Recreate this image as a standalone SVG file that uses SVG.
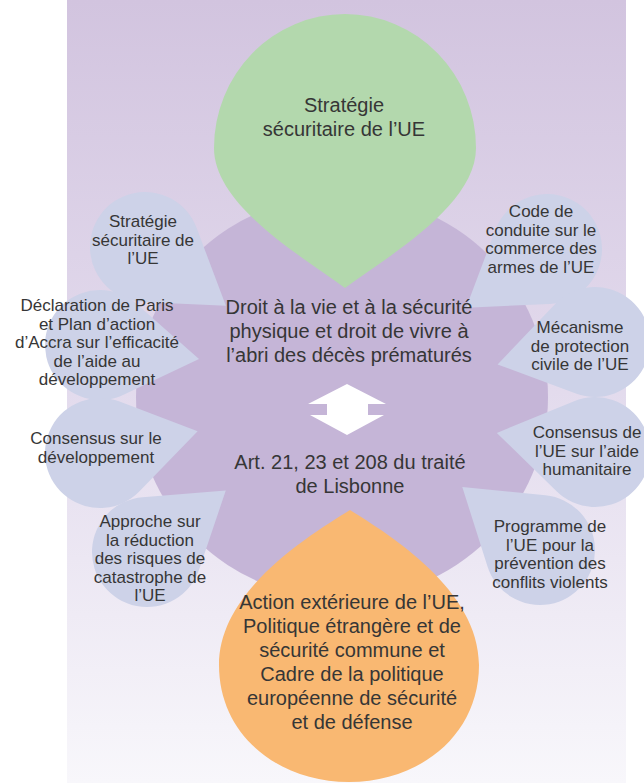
<svg xmlns="http://www.w3.org/2000/svg" xmlns:xlink="http://www.w3.org/1999/xlink" width="644" height="783" viewBox="0 0 644 783">
  <defs>
    <linearGradient id="bg" x1="0" y1="0" x2="0" y2="1">
      <stop offset="0" stop-color="#d2c4df"/>
      <stop offset="0.5" stop-color="#e3dbed"/>
      <stop offset="1" stop-color="#f8f7fb"/>
    </linearGradient>
    <path id="drop" d="M100,0 L30.25,45.93 A55,55 0 1 1 30.25,-45.93 Z"/>
    <style>
      .t { font-family: "Liberation Sans", Arial, Helvetica, sans-serif; fill: #363636; text-anchor: middle; }
      .big { font-size: 20px; }
      .small { font-size: 17px; }
      .lav { fill: #cdd2e8; }
    </style>
  </defs>

  <rect x="67" y="0" width="559" height="783" fill="url(#bg)"/>

  <g id="centre">
    <ellipse cx="342" cy="397" rx="206" ry="202" fill="#c5b5d7"/>
  </g>

  <g id="drop-strategie-gauche">
    <use xlink:href="#drop" class="lav" transform="translate(145,247) rotate(36)"/>
    <text class="t small"><tspan x="143" y="227">Stratégie</tspan><tspan x="143" y="245.5">sécuritaire de</tspan><tspan x="143" y="264">l’UE</tspan></text>
  </g>
  <g id="drop-declaration-paris">
    <use xlink:href="#drop" class="lav" transform="translate(100,345) rotate(8)"/>
    <text class="t small"><tspan x="97" y="311">Déclaration de Paris</tspan><tspan x="97" y="329.5">et Plan d’action</tspan><tspan x="97" y="348">d’Accra sur l’efficacité</tspan><tspan x="97" y="366.5">de l’aide au</tspan><tspan x="97" y="385">développement</tspan></text>
  </g>
  <g id="drop-consensus-developpement">
    <use xlink:href="#drop" class="lav" transform="translate(100,453) rotate(-12.5)"/>
    <text class="t small"><tspan x="96" y="444">Consensus sur le</tspan><tspan x="96" y="463">développement</tspan></text>
  </g>
  <g id="drop-approche-risques">
    <use xlink:href="#drop" class="lav" transform="translate(147,552) rotate(-38)"/>
    <text class="t small"><tspan x="150" y="527">Approche sur</tspan><tspan x="150" y="545.5">la réduction</tspan><tspan x="150" y="564">des risques de</tspan><tspan x="150" y="582.5">catastrophe de</tspan><tspan x="150" y="601">l’UE</tspan></text>
  </g>
  <g id="drop-code-conduite">
    <use xlink:href="#drop" class="lav" transform="translate(547,249) rotate(144)"/>
    <text class="t small"><tspan x="541" y="217">Code de</tspan><tspan x="541" y="235.5">conduite sur le</tspan><tspan x="541" y="254">commerce des</tspan><tspan x="541" y="272.5">armes de l’UE</tspan></text>
  </g>
  <g id="drop-mecanisme">
    <use xlink:href="#drop" class="lav" transform="translate(595,342) rotate(167)"/>
    <text class="t small"><tspan x="580" y="333">Mécanisme</tspan><tspan x="580" y="351.5">de protection</tspan><tspan x="580" y="370">civile de l’UE</tspan></text>
  </g>
  <g id="drop-consensus-humanitaire">
    <use xlink:href="#drop" class="lav" transform="translate(595,452) rotate(191)"/>
    <text class="t small"><tspan x="587" y="438">Consensus de</tspan><tspan x="587" y="456.5">l’UE sur l’aide</tspan><tspan x="587" y="475">humanitaire</tspan></text>
  </g>
  <g id="drop-programme-prevention">
    <use xlink:href="#drop" class="lav" transform="translate(540,550) rotate(-141)"/>
    <text class="t small"><tspan x="550" y="532">Programme de</tspan><tspan x="550" y="550.5">l’UE pour la</tspan><tspan x="550" y="569">prévention des</tspan><tspan x="550" y="587.5">conflits violents</tspan></text>
  </g>

  <g id="strategie-ue">
    <path d="M345,288 C300,255 214,205 214,148 A131,134 0 0 1 476,148 C476,205 390,255 345,288 Z" fill="#b3d8ad"/>
    <text class="t big"><tspan x="344" y="112">Stratégie</tspan><tspan x="344" y="136">sécuritaire de l’UE</tspan></text>
  </g>

  <g id="action-exterieure">
    <path d="M350,510 C390,535 479,590 479,665 C479,735 420,782 349,782 C278,782 219,735 219,665 C219,590 310,535 350,510 Z" fill="#f9b872"/>
    <text class="t big"><tspan x="352" y="609">Action extérieure de l’UE,</tspan><tspan x="352" y="633">Politique étrangère et de</tspan><tspan x="352" y="657">sécurité commune et</tspan><tspan x="352" y="681">Cadre de la politique</tspan><tspan x="352" y="705">européenne de sécurité</tspan><tspan x="352" y="729">et de défense</tspan></text>
  </g>

  <g id="droit-vie">
    <text class="t big"><tspan x="349" y="314">Droit à la vie et à la sécurité</tspan><tspan x="349" y="338">physique et droit de vivre à</tspan><tspan x="349" y="362">l’abri des décès prématurés</tspan></text>
  </g>
  <g id="traite-lisbonne">
    <text class="t big"><tspan x="350" y="469">Art. 21, 23 et 208 du traité</tspan><tspan x="350" y="493">de Lisbonne</tspan></text>
  </g>

  <g id="connectors">
    <path d="M347,384 L386,404 L368,404 L368,415 L384,415 L347,435 L310,415 L327,415 L327,404 L308,404 Z" fill="#ffffff"/>
  </g>
</svg>
